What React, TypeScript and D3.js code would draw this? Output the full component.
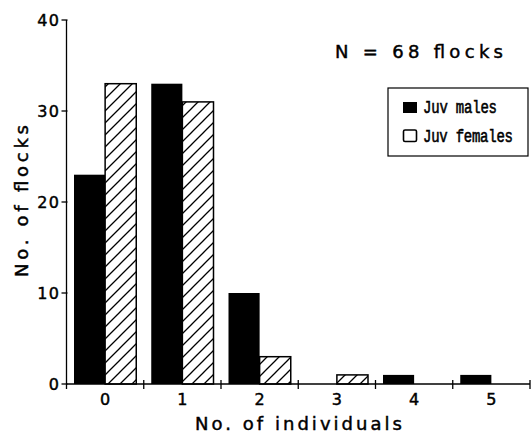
import React from "react";
import * as d3 from "d3";

const categories = ["0", "1", "2", "3", "4", "5"];
const series = ["Juv males", "Juv females"];
const males = [23, 33, 10, 0, 1, 1];
const females = [33, 31, 3, 1, 0, 0];
const yTicks = [0, 10, 20, 30, 40];

const W = 531;
const H = 433;
const left = 66.5;
const right = 530;
const top = 20;
const bottom = 384;

export default function App() {
  const x0 = d3.scaleBand<string>().domain(categories).range([left, right]).padding(0);
  const bw = x0.bandwidth();
  const x1 = d3.scaleBand<string>().domain(series).range([7.5, bw - 7.5]).padding(0);
  const y = d3.scaleLinear().domain([0, 40]).range([bottom, top]);
  const values = [males, females];
  const font = "'DejaVu Sans', sans-serif";
  const heavy = { stroke: "#000", strokeWidth: 0.45 };

  return (
    <svg
      width={W}
      height={H}
      style={{ position: "absolute", left: 0, top: 0, background: "#fff" }}
      fontFamily={font}
    >
      <defs>
        <pattern id="hatch" patternUnits="userSpaceOnUse" width={12} height={12}>
          <rect width={12} height={12} fill="#fff" />
          <path d="M-3,3 L3,-3 M0,12 L12,0 M9,15 L15,9" stroke="#000" strokeWidth={1.3} />
        </pattern>
      </defs>
      <rect width={W} height={H} fill="#fff" />

      {categories.map((c, i) =>
        series.map((s, j) => {
          const v = values[j][i];
          if (v <= 0) return null;
          const bx = (x0(c) as number) + (x1(s) as number);
          const by = y(v);
          return j === 0 ? (
            <rect key={c + s} x={bx} y={by} width={x1.bandwidth()} height={bottom - by} fill="#000" />
          ) : (
            <rect
              key={c + s}
              x={bx}
              y={by}
              width={x1.bandwidth()}
              height={bottom - by}
              fill="url(#hatch)"
              stroke="#000"
              strokeWidth={1.5}
            />
          );
        })
      )}

      <line x1={left} x2={left} y1={top} y2={bottom} stroke="#000" strokeWidth={1.3} />
      {yTicks.map((t) => (
        <g key={t}>
          <line x1={left - 5} x2={left + 1} y1={y(t)} y2={y(t)} stroke="#000" strokeWidth={1.3} />
          <text x={left - 6} y={y(t) + 6} textAnchor="end" fontSize={16} letterSpacing={1.5} fill="#000" {...heavy}>
            {t}
          </text>
        </g>
      ))}

      <line x1={left} x2={right} y1={bottom} y2={bottom} stroke="#000" strokeWidth={1.3} />
      {categories.map((c) => (
        <line
          key={"t" + c}
          x1={(x0(c) as number) + bw}
          x2={(x0(c) as number) + bw}
          y1={bottom - 4}
          y2={bottom + 5}
          stroke="#000"
          strokeWidth={1.3}
        />
      ))}
      <line x1={left} x2={left} y1={bottom} y2={bottom + 5} stroke="#000" strokeWidth={1.3} />
      {categories.map((c) => (
        <text key={"l" + c} x={(x0(c) as number) + bw / 2} y={405} textAnchor="middle" fontSize={16} fill="#000" {...heavy}>
          {c}
        </text>
      ))}

      <text x={195} y={430} fontSize={18} textLength={207} lengthAdjust="spacing" fill="#000" {...heavy}>
        No. of individuals
      </text>
      <text
        transform="translate(28,277) rotate(-90)"
        fontSize={18}
        textLength={152}
        lengthAdjust="spacing"
        fill="#000"
        {...heavy}
      >
        No. of flocks
      </text>

      <text x={335} y={58} fontSize={18} textLength={168} lengthAdjust="spacing" fill="#000" {...heavy}>
        N = 68 flocks
      </text>

      <rect x={388} y={88} width={140} height={68} fill="#fff" stroke="#000" strokeWidth={1.2} />
      <rect x={403} y={102} width={14} height={11} fill="#000" />
      <rect x={403.5} y={130} width={13} height={11.5} fill="#fff" stroke="#000" strokeWidth={1.6} rx={1.5} />
      <g transform="translate(423,113) scale(1,1.25)">
        <text x={0} y={0} fontFamily="'Liberation Mono', monospace" fontSize={14} textLength={74} lengthAdjust="spacing" fill="#000" {...heavy}>
          {series[0]}
        </text>
      </g>
      <g transform="translate(423,142) scale(1,1.25)">
        <text x={0} y={0} fontFamily="'Liberation Mono', monospace" fontSize={14} textLength={90} lengthAdjust="spacing" fill="#000" {...heavy}>
          {series[1]}
        </text>
      </g>
    </svg>
  );
}
